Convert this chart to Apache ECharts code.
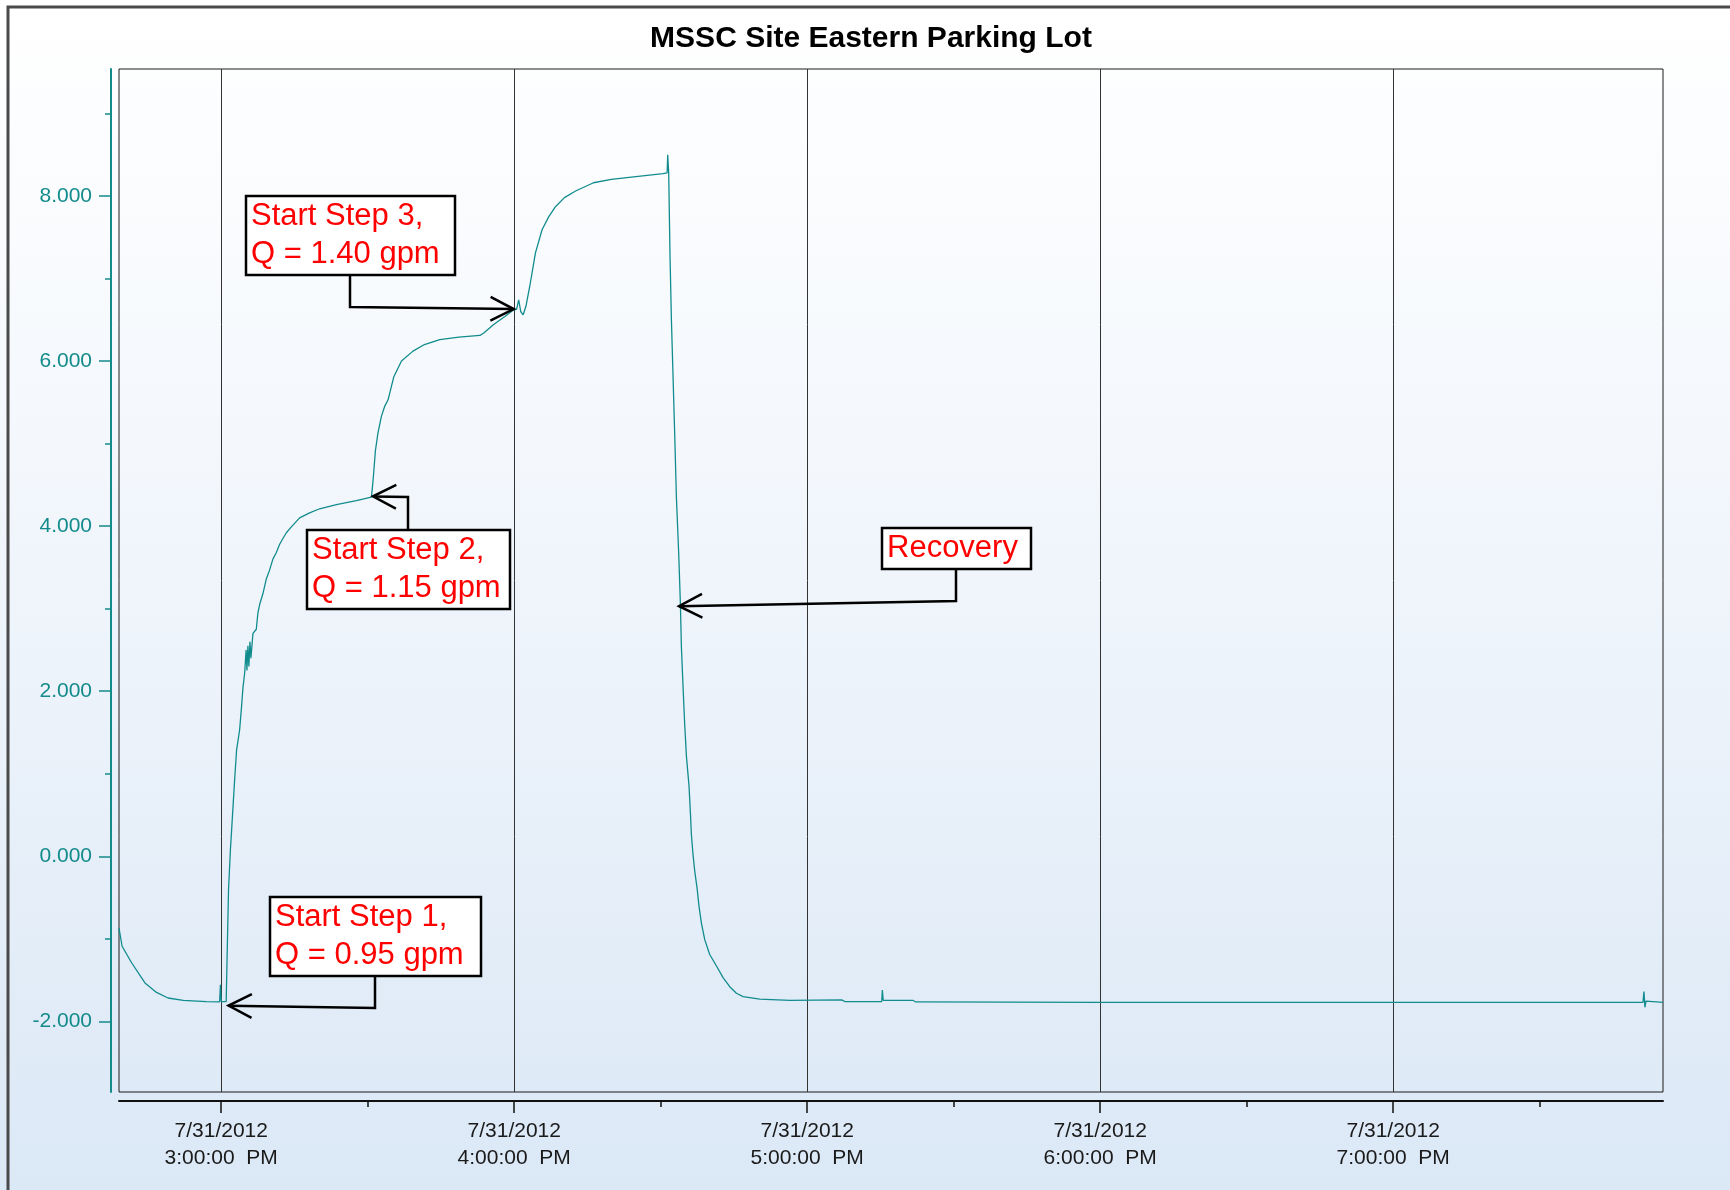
<!DOCTYPE html>
<html>
<head>
<meta charset="utf-8">
<title>MSSC Site Eastern Parking Lot</title>
<script src="https://cdn.jsdelivr.net/npm/echarts@6.0.0/dist/echarts.min.js"></script>
<style>
  html, body { margin: 0; padding: 0; }
  #chartBox { width: 1730px; height: 1190px; }
</style>
</head>
<body>
<div id="chartBox"></div>
<script>
const chartTitle = "MSSC Site Eastern Parking Lot";

// water level readings, 7/31/2012 (clock time, level)
const times = [
  "14:39:04", "14:39:42", "14:41:39", "14:44:23", "14:46:45", "14:49:06", "14:52:14", "14:56:57",
  "14:59:40", "14:59:50", "15:00:00", "15:01:01", "15:01:15", "15:01:30", "15:01:53", "15:02:25",
  "15:02:45", "15:03:09", "15:03:46", "15:04:07", "15:04:27", "15:04:48", "15:05:06", "15:05:16",
  "15:05:28", "15:05:40", "15:05:53", "15:06:05", "15:06:30", "15:07:11", "15:07:31", "15:07:52",
  "15:08:32", "15:09:14", "15:09:55", "15:10:35", "15:11:17", "15:11:58", "15:12:38", "15:13:20",
  "15:14:22", "15:16:03", "15:18:06", "15:20:09", "15:23:35", "15:27:40", "15:30:45", "15:30:57",
  "15:31:13", "15:31:34", "15:32:06", "15:32:48", "15:33:28", "15:34:10", "15:35:21", "15:36:55",
  "15:39:16", "15:41:37", "15:44:45", "15:48:40", "15:52:59", "15:53:46", "15:55:44", "15:58:05",
  "15:59:39", "16:00:30", "16:00:55", "16:01:20", "16:01:50", "16:02:23", "16:03:10", "16:04:21",
  "16:05:42", "16:07:05", "16:08:27", "16:10:17", "16:12:34", "16:16:14", "16:19:53", "16:24:27",
  "16:30:28", "16:31:19", "16:31:26", "16:31:38", "16:31:54", "16:32:12", "16:32:31", "16:32:52",
  "16:33:13", "16:33:41", "16:34:02", "16:34:14", "16:34:34", "16:34:55", "16:35:16", "16:35:48",
  "16:36:05", "16:36:17", "16:36:37", "16:36:58", "16:37:26", "16:37:51", "16:38:20", "16:39:01",
  "16:40:02", "16:41:25", "16:42:46", "16:44:08", "16:45:30", "16:46:52", "16:50:17", "16:56:25",
  "17:07:04", "17:07:41", "17:15:16", "17:15:23", "17:15:34", "17:21:37", "17:22:14", "17:59:55",
  "19:51:09", "19:51:21", "19:51:33", "19:51:46", "19:55:15"
];
const levels = [
  -0.87, -1.09, -1.29, -1.535, -1.65, -1.717, -1.746, -1.762,
  -1.765, -1.556, -1.76, -1.76, -1.09, -0.40, 0.08, 0.60,
  0.93, 1.29, 1.53, 1.78, 2.04, 2.22, 2.50, 2.25,
  2.55, 2.30, 2.60, 2.40, 2.70, 2.75, 2.95, 3.05,
  3.18, 3.36, 3.47, 3.60, 3.68, 3.78, 3.85, 3.92,
  3.99, 4.10, 4.16, 4.21, 4.26, 4.31, 4.35, 4.46,
  4.64, 4.91, 5.13, 5.33, 5.45, 5.53, 5.81, 6.00,
  6.12, 6.20, 6.26, 6.29, 6.31, 6.34, 6.44, 6.54,
  6.61, 6.63, 6.74, 6.60, 6.56, 6.66, 6.90, 7.31,
  7.59, 7.75, 7.87, 7.98, 8.06, 8.16, 8.20, 8.23,
  8.27, 8.28, 8.50, 8.28, 7.29, 6.48, 5.83, 5.11,
  4.34, 3.67, 3.05, 2.54, 2.06, 1.59, 1.21, 0.85,
  0.52, 0.26, 0.02, -0.18, -0.38, -0.61, -0.81, -1.01,
  -1.19, -1.33, -1.47, -1.58, -1.66, -1.70, -1.73, -1.745,
  -1.74, -1.76, -1.76, -1.62, -1.745, -1.745, -1.765, -1.77,
  -1.77, -1.64, -1.83, -1.755, -1.77
];

// axes
const xStart = "14:39:04";
const xEnd = "19:55:15";
const hourTicks = ["15:00:00", "16:00:00", "17:00:00", "18:00:00", "19:00:00"];
const hourLabels = [
  "7/31/2012\n3:00:00  PM", "7/31/2012\n4:00:00  PM", "7/31/2012\n5:00:00  PM",
  "7/31/2012\n6:00:00  PM", "7/31/2012\n7:00:00  PM"
];
const halfHourTicks = ["15:30:00", "16:30:00", "17:30:00", "18:30:00", "19:30:00"];
const yMin = -2.856;
const yMax = 9.538;
const levelTicks = [-2, 0, 2, 4, 6, 8];
const levelMinorTicks = [-1, 1, 3, 5, 7, 9];

// callouts: text and the reading they point at
const annotLabels = ["Start Step 1,\nQ = 0.95 gpm", "Start Step 2,\nQ = 1.15 gpm", "Start Step 3,\nQ = 1.40 gpm", "Recovery"];
const annotTimes = ["15:01:30", "15:31:04", "15:59:53", "16:33:45"];
const annotLevels = [-1.81, 4.36, 6.63, 3.03];

// callout layout in pixels: box [x, y, w, h] and elbow point of connector
const annotBoxes = [[270, 897, 211, 79], [307, 530, 203, 79], [246, 196, 209, 79], [882, 528, 149, 41]];
const annotElbows = [[375, 1008], [408, 497], [350, 307], [956, 601]];

const teal = "#148b8b";
const font = "Liberation Sans";

function toHours(t) {
  const p = t.split(":").map(Number);
  return p[0] + p[1] / 60 + p[2] / 3600;
}

const hourValues = hourTicks.map(toHours);
const seriesData = times.map((t, i) => [toHours(t), levels[i]]);

const chartDom = document.getElementById("chartBox");
const myChart = echarts.init(chartDom);

const option = {
  animation: false,
  backgroundColor: {
    type: "linear", x: 0, y: 0, x2: 0, y2: 1,
    colorStops: [
      { offset: 0, color: "#ffffff" },
      { offset: 0.4, color: "#f3f7fc" },
      { offset: 1, color: "#dbe8f6" }
    ]
  },
  title: {
    text: chartTitle,
    left: 866,
    top: 19,
    textAlign: "center",
    textStyle: { fontFamily: font, fontSize: 30, fontWeight: "bold", color: "#000" }
  },
  grid: {
    left: 119, right: 67, top: 69, bottom: 98,
    show: true, borderColor: "#1a1a1a", borderWidth: 1, backgroundColor: "transparent"
  },
  xAxis: [
    {
      type: "value", min: toHours(xStart), max: toHours(xEnd), position: "bottom", offset: 9,
      axisLine: { show: true, onZero: false, lineStyle: { color: "#111", width: 2 } },
      axisTick: { show: true, customValues: hourValues, length: 12, lineStyle: { color: "#111", width: 1.5 } },
      axisLabel: {
        customValues: hourValues,
        formatter: function (v) {
          let best = 0;
          hourValues.forEach((h, i) => { if (Math.abs(h - v) < Math.abs(hourValues[best] - v)) best = i; });
          return hourLabels[best];
        },
        color: "#1a1a1a", fontFamily: font, fontSize: 21, lineHeight: 27, margin: 17
      },
      splitLine: { show: true, lineStyle: { color: "#333", width: 1 } }
    },
    {
      type: "value", min: toHours(xStart), max: toHours(xEnd), position: "bottom", offset: 9,
      axisLine: { show: false, onZero: false },
      axisTick: { show: true, customValues: halfHourTicks.map(toHours), length: 6, lineStyle: { color: "#111", width: 1.5 } },
      axisLabel: { show: false },
      splitLine: { show: false }
    }
  ],
  yAxis: [
    {
      type: "value", min: yMin, max: yMax, position: "left", offset: 8,
      axisLine: { show: true, onZero: false, lineStyle: { color: teal, width: 2 } },
      axisTick: { show: true, customValues: levelTicks, length: 12, lineStyle: { color: teal, width: 1.5 } },
      axisLabel: {
        customValues: levelTicks,
        formatter: (v) => v.toFixed(3),
        color: teal, fontFamily: font, fontSize: 21, margin: 19
      },
      splitLine: { show: false }
    },
    {
      type: "value", min: yMin, max: yMax, position: "left", offset: 8,
      axisLine: { show: false, onZero: false },
      axisTick: { show: true, customValues: levelMinorTicks, length: 6, lineStyle: { color: teal, width: 1.5 } },
      axisLabel: { show: false },
      splitLine: { show: false }
    }
  ],
  series: [
    {
      type: "line",
      xAxisIndex: 0,
      yAxisIndex: 0,
      data: seriesData,
      showSymbol: false,
      lineStyle: { color: "#118c8e", width: 1.3 },
      z: 3
    }
  ]
};

myChart.setOption(option);

// callouts built from the data points through the chart's scales
const graphics = [
  {
    type: "rect", id: "frame", silent: true, z: 1,
    shape: { x: 8, y: 7, width: 1760, height: 1220 },
    style: { fill: null, stroke: "#4a4a4a", lineWidth: 3 }
  }
];

annotLabels.forEach((label, i) => {
  const tip = myChart.convertToPixel({ gridIndex: 0 }, [toHours(annotTimes[i]), annotLevels[i]]);
  const [bx, by, bw, bh] = annotBoxes[i];
  const [ex, ey] = annotElbows[i];
  const startY = ey > by + bh ? by + bh : by;

  // arrow head from direction of last segment
  const dx = ex - tip[0], dy = ey - tip[1];
  const len = Math.sqrt(dx * dx + dy * dy);
  const ux = dx / len, uy = dy / len;
  const ang = 27 * Math.PI / 180, L = 26;
  const a1 = [tip[0] + L * (ux * Math.cos(ang) - uy * Math.sin(ang)), tip[1] + L * (ux * Math.sin(ang) + uy * Math.cos(ang))];
  const a2 = [tip[0] + L * (ux * Math.cos(-ang) - uy * Math.sin(-ang)), tip[1] + L * (ux * Math.sin(-ang) + uy * Math.cos(-ang))];

  graphics.push({
    type: "polyline", id: "conn" + i, silent: true, z: 20,
    shape: { points: [[ex, startY], [ex, ey], tip] },
    style: { stroke: "#000", lineWidth: 2.5, fill: null }
  });
  graphics.push({
    type: "polyline", id: "head" + i, silent: true, z: 20,
    shape: { points: [a1, tip, a2] },
    style: { stroke: "#000", lineWidth: 2.5, fill: null }
  });
  graphics.push({
    type: "rect", id: "box" + i, silent: true, z: 21,
    shape: { x: bx, y: by, width: bw, height: bh },
    style: { fill: "#ffffff", stroke: "#000", lineWidth: 2.5 }
  });
  graphics.push({
    type: "text", id: "text" + i, silent: true, z: 22,
    x: bx + 5, y: by + 1,
    style: {
      text: label, fill: "#ff0000", fontFamily: font, fontSize: 31, lineHeight: 38,
      align: "left", verticalAlign: "top"
    }
  });
});

myChart.setOption({ graphic: graphics });
</script>
</body>
</html>
